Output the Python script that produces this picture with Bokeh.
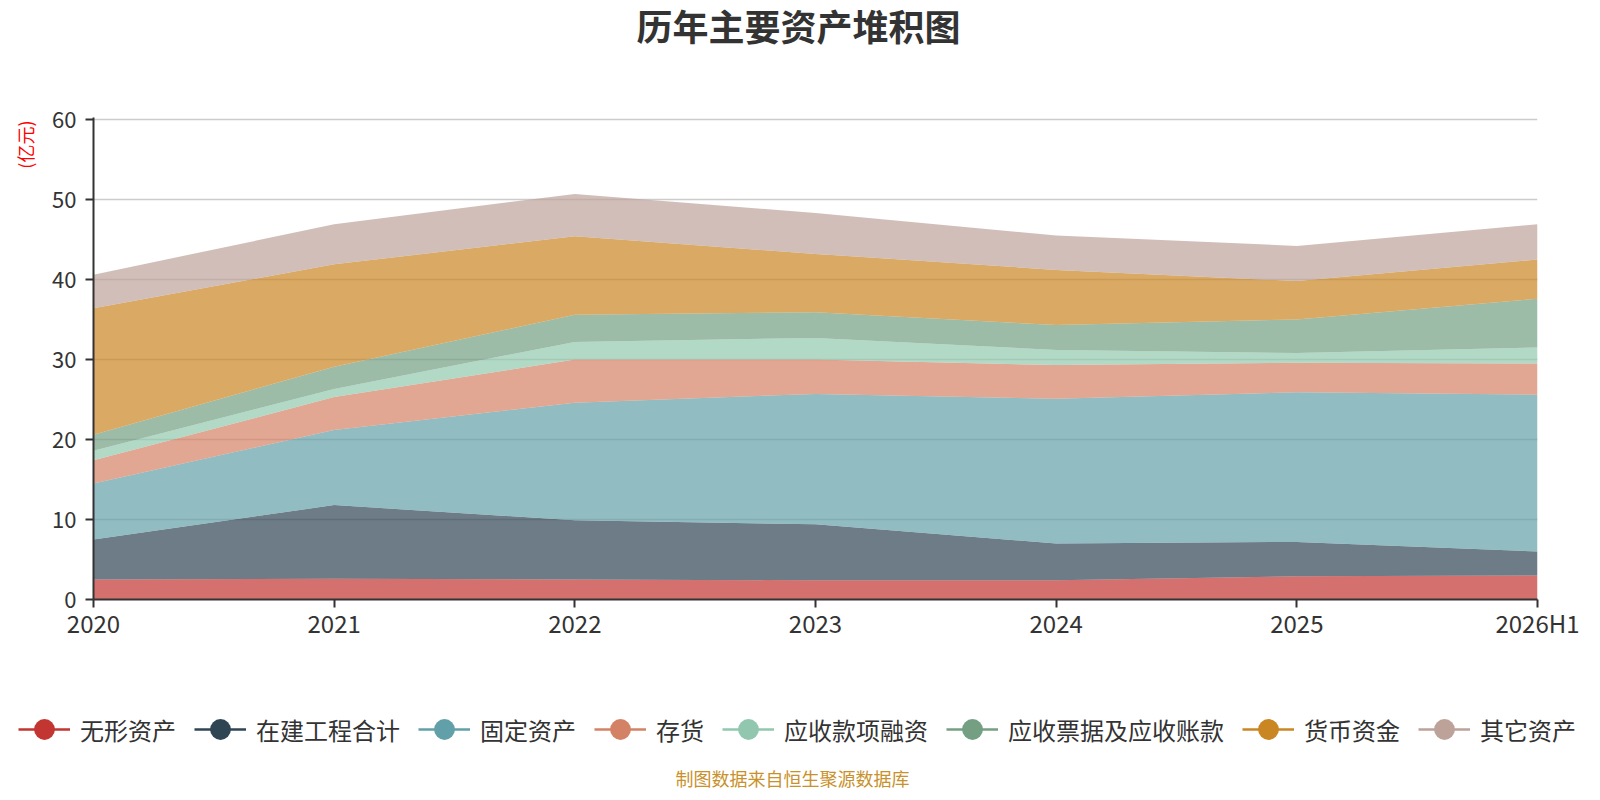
from bokeh.plotting import figure
from bokeh.models import ColumnDataSource, Range1d, FixedTicker, Legend, LegendItem, Title, Label
from bokeh.embed import file_html
from bokeh.resources import INLINE

# 数据（亿元）
categories = ["2020", "2021", "2022", "2023", "2024", "2025", "2026H1"]
series_names = ["无形资产", "在建工程合计", "固定资产", "存货", "应收款项融资",
                "应收票据及应收账款", "货币资金", "其它资产"]
wuxing = [2.5, 2.6, 2.5, 2.4, 2.4, 2.9, 3.0]
zaijian = [5.0, 9.2, 7.4, 7.0, 4.6, 4.3, 3.0]
guding = [7.0, 9.4, 14.7, 16.3, 18.1, 18.7, 19.6]
cunhuo = [2.9, 4.1, 5.4, 4.3, 4.2, 3.7, 3.9]
rongzi = [1.2, 1.0, 2.2, 2.7, 1.9, 1.2, 2.0]
piaoju = [2.0, 2.8, 3.4, 3.2, 3.1, 4.2, 6.1]
huobi = [15.8, 12.8, 9.8, 7.3, 6.9, 4.8, 4.9]
qita = [4.2, 5.0, 5.3, 5.1, 4.3, 4.4, 4.4]
y_ticks = [0, 10, 20, 30, 40, 50, 60]

colors = ["#c23531", "#2f4554", "#61a0a8", "#d48265", "#91c7ae",
          "#749f83", "#ca8622", "#bda29a"]
FONT = "Noto Sans CJK SC"

values = [wuxing, zaijian, guding, cunhuo, rongzi, piaoju, huobi, qita]
data = {"x": list(range(len(categories)))}
for name, v in zip(series_names, values):
    data[name] = v
source = ColumnDataSource(data=data)

p = figure(title=None, frame_width=1444, frame_height=482,
           min_border_left=0, min_border_right=55, min_border_top=0, min_border_bottom=50,
           x_range=Range1d(0, len(categories) - 1), y_range=Range1d(y_ticks[0], y_ticks[-1] + 0.25),
           output_backend="svg", toolbar_location=None, tools="")
p.outline_line_color = None
p.background_fill_color = "white"

p.varea_stack(stackers=series_names, x="x", source=source,
              color=colors, fill_alpha=0.7)

# axes
p.xaxis.ticker = FixedTicker(ticks=data["x"])
p.xaxis.major_label_overrides = {i: c for i, c in enumerate(categories)}
p.yaxis.ticker = FixedTicker(ticks=y_ticks)
for ax in (p.xaxis[0], p.yaxis[0]):
    ax.axis_line_color = "#333333"
    ax.axis_line_width = 2
    ax.major_tick_line_color = "#333333"
    ax.major_tick_line_width = 2
    ax.major_tick_out = 8
    ax.major_tick_in = 0
    ax.minor_tick_line_color = None
    ax.major_label_text_font = FONT
    ax.major_label_text_color = "#333333"
p.xaxis.major_label_text_font_size = "24px"
p.xaxis.major_label_standoff = -3
p.yaxis.major_label_text_font_size = "22px"
p.yaxis.major_label_standoff = 9

p.xgrid.grid_line_color = None
p.ygrid.grid_line_color = "#cccccc"
p.ygrid.grid_line_width = 1.5

# unit label on the left, near the top
p.add_layout(Title(text="(亿元)", text_font=FONT, text_font_size="18px", text_font_style="normal",
                   text_color="red", align="right", offset=3, vertical_align="middle",
                   standoff=21), "left")

# title: spacer next to the frame, then the title itself
p.add_layout(Title(text=" ", text_font_size="10px", standoff=53.5), "above")
p.add_layout(Title(text="历年主要资产堆积图", text_font=FONT, text_font_size="36px",
                   text_font_style="bold", text_color="#333333", align="left", offset=543,
                   vertical_align="top", standoff=-4), "above")

# second strip below the chart: legend + source note
p2 = figure(width=1584, height=141, min_border=0, x_range=Range1d(0, 1), y_range=Range1d(0, 1),
            x_axis_type=None, y_axis_type=None, output_backend="svg",
            toolbar_location=None, tools="")
p2.outline_line_color = None
p2.xgrid.grid_line_color = None
p2.ygrid.grid_line_color = None

items = []
for name, c in zip(series_names, colors):
    lr = p2.line(x=[0, 1], y=[-5, -5], line_color=c, line_width=2.5)
    sr = p2.scatter(x=[0.5], y=[-5], fill_color=c, line_color=None, size=20)
    items.append(LegendItem(label=name, renderers=[lr, sr]))
legend = Legend(items=items, orientation="horizontal", location=(18, 35),
                glyph_width=52, glyph_height=52, label_standoff=10, spacing=18,
                padding=0, margin=0, border_line_color=None, background_fill_alpha=0,
                label_text_font=FONT, label_text_font_size="24px",
                label_text_color="#333333")
p2.add_layout(legend, "center")

p2.add_layout(Label(x=792, y=13, x_units="screen", y_units="screen",
                    text="制图数据来自恒生聚源数据库", text_font=FONT, text_font_size="18px",
                    text_color="#c9912b", text_align="center", text_baseline="middle"))

open("out.html", "w").write(file_html([p, p2], INLINE))
